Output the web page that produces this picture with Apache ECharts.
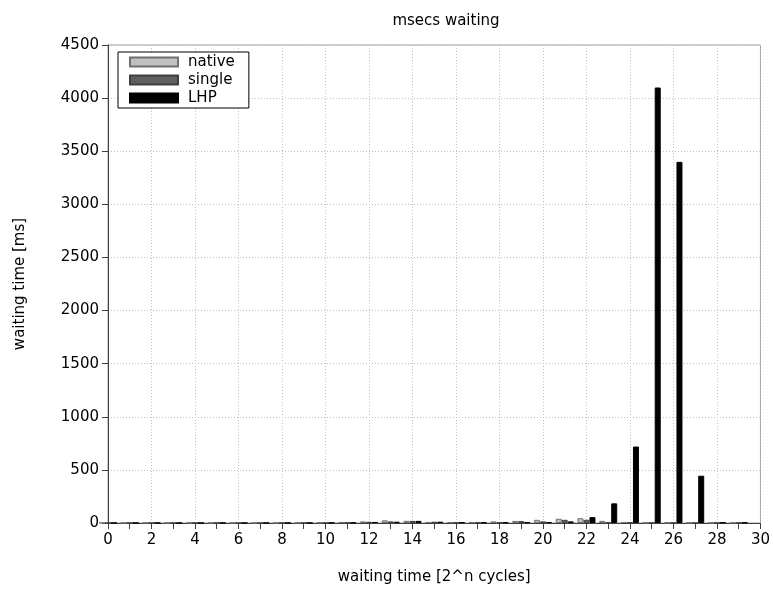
<!DOCTYPE html>
<html>
<head>
<meta charset="utf-8">
<script src="https://cdn.jsdelivr.net/npm/echarts@6/dist/echarts.min.js"></script>
<style>html,body{margin:0;padding:0;background:#fff}#c{width:773px;height:590px}</style>
</head>
<body>
<div id="c"></div>
<script>
var exponents = [0,1,2,3,4,5,6,7,8,9,10,11,12,13,14,15,16,17,18,19,20,21,22,23,24,25,26,27,28,29];
var nativeMs = [2,2,2,2,2,2,2,2,2,3, 5,10,15,25,20,10,10,8,15,20, 30,40,45,20,10,3,3,3,2,2];
var singleMs = [1,1,1,1,1,1,1,1,1,2, 3,5,12,15,20,12,8,6,8,18, 15,30,30,5,5,2,2,2,3,3];
var lhpMs    = [1,1,1,1,1,1,1,1,1,1, 2,3,10,12,20,12,6,5,5,8, 8,15,55,185,720,4100,3400,445,5,5];
var seriesNames = ['native','single','LHP'];

function pairs(vals){ return exponents.map(function(x,i){ return [x, vals[i]]; }); }

var FONT = 'DejaVu Sans';
var chart = echarts.init(document.getElementById('c'), null, {renderer:'canvas'});
chart.setOption({
  animation: false,
  backgroundColor: '#fff',
  textStyle: {fontFamily: FONT},
  title: {
    text: 'msecs waiting', left: 441, top: 9, textAlign: 'center',
    textStyle: {fontFamily: FONT, fontSize: 15, fontWeight: 'normal', color: '#000'}
  },
  grid: {left: 108, right: 8, top: 45, bottom: 67, show: true, borderColor: '#a0a0a0', borderWidth: 1},
  legend: {
    orient: 'vertical', left: 118, top: 52,
    data: seriesNames,
    itemWidth: 48, itemHeight: 9, itemGap: 0,
    backgroundColor: '#fff', borderColor: '#000', borderWidth: 1, borderRadius: 0,
    padding: [1, 14, 1, 11],
    icon: 'rect',
    textStyle: {fontFamily: FONT, fontSize: 15, color: '#000', padding: [0,0,0,5], lineHeight: 18}
  },
  xAxis: {
    type: 'value', min: 0, max: 30, interval: 2,
    name: 'waiting time [2^n cycles]', nameLocation: 'middle', nameGap: 47,
    nameTextStyle: {fontFamily: FONT, fontSize: 15, color: '#000'},
    axisLine: {show: true, lineStyle: {color: '#404040'}},
    axisTick: {show: true, length: 6, lineStyle: {color: '#404040'}},
    minorTick: {show: true, splitNumber: 2, length: 6, lineStyle: {color: '#404040'}},
    axisLabel: {fontFamily: FONT, fontSize: 15, color: '#000', margin: 10},
    splitLine: {show: true, lineStyle: {color: '#c0c0c0', type: [1, 2]}}
  },
  yAxis: {
    type: 'value', min: 0, max: 4500, interval: 500,
    name: 'waiting time [ms]', nameLocation: 'middle', nameGap: 80,
    nameTextStyle: {fontFamily: FONT, fontSize: 15, color: '#000'},
    axisLine: {show: true, lineStyle: {color: '#404040'}},
    axisTick: {show: true, length: 6, lineStyle: {color: '#404040'}},
    axisLabel: {fontFamily: FONT, fontSize: 15, color: '#000', margin: 9,
                formatter: function(v){ return String(v); }},
    splitLine: {show: true, lineStyle: {color: '#c0c0c0', type: [1, 2]}}
  },
  series: [
    {name: 'native', type: 'bar', barWidth: 6, barGap: '0%', data: pairs(nativeMs),
     itemStyle: {color: '#c0c0c0', borderColor: '#707070', borderWidth: 1}},
    {name: 'single', type: 'bar', barWidth: 6, barGap: '0%', data: pairs(singleMs),
     itemStyle: {color: '#606060', borderColor: '#404040', borderWidth: 1}},
    {name: 'LHP', type: 'bar', barWidth: 6, barGap: '0%', data: pairs(lhpMs),
     itemStyle: {color: '#000', borderColor: '#000', borderWidth: 1}}
  ]
});
</script>
</body>
</html>
